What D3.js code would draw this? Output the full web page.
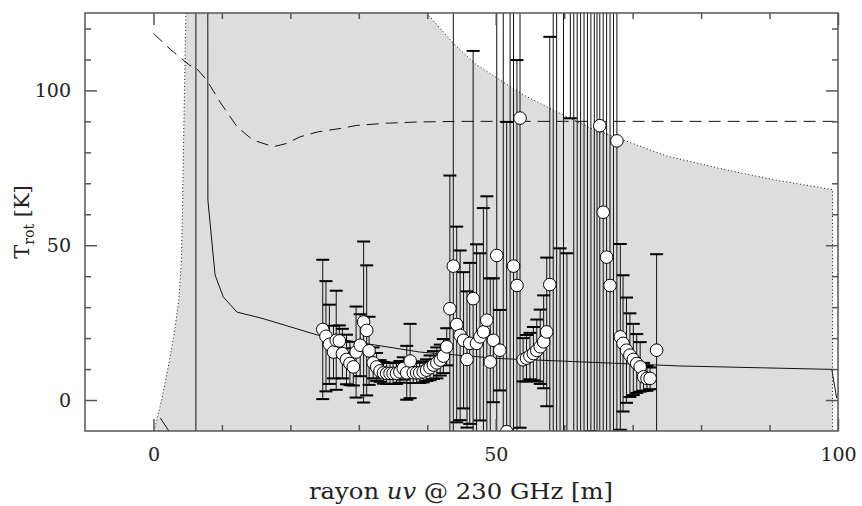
<!DOCTYPE html>
<html>
<head>
<meta charset="utf-8">
<script src="https://cdn.jsdelivr.net/npm/d3@7"></script>
<style>
	body { margin: 0; background: #fff; }
	svg { display: block; }
</style>
</head>
<body>
<div id="stage"></div>
<script>
// visibilities: uv radius [m], rotational temperature [K] and its error
var uvRadius = [
	24.73, 25.2, 25.7, 26.3, 26.7, 27.15, 27.6, 28.2, 28.7, 29.2, 29.6, 30.2, 30.7, 31.15, 31.5, 32.1, 32.6, 33.1, 33.6,
	34.07, 34.56, 35.0, 35.5, 36.0, 36.5, 37.0, 37.5, 37.96, 38.45, 38.9, 39.4, 39.9, 40.4, 40.9, 41.4, 41.9, 42.35, 42.84,
	43.3, 43.8, 44.3, 44.8, 45.3, 45.8, 46.2, 46.7, 47.2, 47.7, 48.2, 48.7, 49.2, 49.65, 50.15, 50.6, 51.1, 51.6, 52.1,
	52.6, 53.1, 53.55,
	54.0, 54.5, 55.0, 55.5, 56.0, 56.5, 57.0, 57.45, 57.9,
	58.4, 58.9, 59.4, 59.9, 60.4, 60.9, 61.4, 61.9, 62.4, 62.9, 63.4, 63.9, 64.4, 64.8, 65.2, 65.7, 66.2, 66.7, 67.2, 67.7,
	68.2, 68.6, 69.1, 69.6, 70.1, 70.6, 71.1, 71.6, 72.1, 72.55, 73.5
];
var tRot = [
	22.8, 20.6, 18.0, 15.5, 19.3, 19.1, 15.0, 13.1, 11.8, 10.7, 15.5, 17.7, 25.2, 22.5, 15.9, 12.0, 10.7, 9.4, 8.8,
	8.6, 8.6, 8.6, 8.6, 9.1, 10.2, 8.8, 12.6, 8.8, 8.8, 8.8, 9.1, 9.65, 10.4, 11.3, 12.0, 12.9, 14.2, 17.2,
	29.5, 43.25, 24.4, 20.9, 19.3, 13.1, 18.3, 32.75, 18.3, 20.4, 22.0, 25.8, 12.3, 19.3, 46.7, 16.1, 150, -10.2, 140,
	43.25, 37.0, 91.06,
	13.0, 13.5, 14.2, 15.0, 16.0, 17.2, 18.8, 22.0, 37.3,
	160, 170, -60, 200, -40, 200, 150, 180, 160, 170, 150, 190, 160, 150, 88.6, 60.65, 46.15, 37.0, 160, 83.7,
	20.4, 18.3, 16.1, 14.5, 13.1, 11.8, 10.7, 7.5, 7.0, 7.0, 16.1
];
var tErr = [
	22.5, 17.8, 12.8, 8.5, 16, 5, 8, 8, 7, 6, 14.7, 10, 26, 21, 11, 5, 4.5, 3.5, 3.5,
	3.4, 3.4, 3.4, 3.4, 3.5, 3.6, 8.7, 12, 3.3, 3.3, 3.3, 3.4, 3.5, 4, 4.5, 5, 5, 5.5, 6,
	43, 100, 31.6, 27.4, 22, 22, 26, 80, 32, 27, 40, 40, 27, 20, 100, 13, 200, 100, 200,
	100, 72.8, 100,
	7, 7.5, 7.5, 8.6, 10, 12, 15, 24, 80,
	200, 200, 109, 250, 87.4, 109, 200, 200, 200, 200, 200, 200, 200, 200, 150, 150, 150, 150, 200, 150,
	30, 22, 17, 13.5, 11.5, 9.5, 8, 4.5, 4, 3.5, 31
];

// model curves
var dashedX = [0, 2.5, 5.3, 6.1, 7.8, 9.8, 12.2, 14.5, 17.5, 19.5, 21.4, 24, 27.25, 29.7, 34, 38.5, 45, 100];
var dashedY = [118.4, 113.2, 108.1, 107.6, 103.3, 96, 88.3, 84, 81.8, 82.9, 85.0, 86.6, 87.7, 88.7, 89.4, 89.8, 90, 90];
var solidX = [1.0, 2.4, 4.0, 6.2, 6.2, 7.9, 7.95, 9.0, 10.2, 12.2, 16.0, 24.1, 30, 38.9, 50.6, 76.9, 99.1, 99.8];
var solidY = [-5.8, -10.5, -40, -2000, 2000, 400, 64.6, 40.4, 33.3, 28.4, 26.3, 20.9, 18.6, 15.5, 13.4, 11.0, 9.9, 0.6];

// shaded envelope (dotted boundaries)
var envLeftX = [0.08, 1.2, 2.17, 3.0, 3.7, 4.1, 4.27, 4.5, 4.75];
var envLeftY = [-10, 0, 10.8, 21, 32.3, 46, 64.6, 96.9, 125];
var envRightX = [39.9, 43.8, 47, 50.6, 54, 57.9, 60.4, 64, 68.6, 75, 83.7, 91, 98.8, 99.2, 99.2];
var envRightY = [125, 115.2, 108.6, 103.4, 98.6, 94.2, 91.5, 87.7, 84.0, 78.8, 74.3, 71.0, 68.1, 68.0, -10];

var xMajor = [0, 50, 100], xMinor = [10, 20, 30, 40, 60, 70, 80, 90];
var yMajor = [0, 50, 100], yMinor = [10, 20, 30, 40, 60, 70, 80, 90, 110, 120];

var margin = {top: 13, right: 24, bottom: 75, left: 85},
	width = 862 - margin.left - margin.right,
	height = 506 - margin.top - margin.bottom,
	serif = '"DejaVu Serif", "Liberation Serif", serif';

var x = d3.scaleLinear().domain([-10, 100]).range([0, width]);
var y = d3.scaleLinear().domain([-10, 125]).range([height, 0]);

var svg = d3.select('#stage').append('svg')
	.attr('width', 862)
	.attr('height', 506);

svg.append('defs').append('clipPath')
	.attr('id', 'plotclip')
	.append('rect')
	.attr('width', width)
	.attr('height', height);

var g = svg.append('g')
	.attr('transform', 'translate(' + margin.left + ',' + margin.top + ')');

var plot = g.append('g').attr('clip-path', 'url(#plotclip)');

var pts = function(xs, ys) {
	return xs.map(function(d, i) { return [d, ys[i]]; });
};
var line = d3.line()
	.x(function(d) { return x(d[0]); })
	.y(function(d) { return y(d[1]); });

// envelope fill
var left = pts(envLeftX, envLeftY), right = pts(envRightX, envRightY);
plot.append('path')
	.attr('d', line(left.concat(right)) + 'Z')
	.attr('fill', '#dddddd')
	.attr('stroke', 'none');

[left, right].forEach(function(p) {
	plot.append('path')
		.attr('d', line(p))
		.attr('fill', 'none')
		.attr('stroke', '#111')
		.attr('stroke-width', 1)
		.attr('stroke-dasharray', '1,2.5');
});

plot.append('path')
	.attr('d', line(pts(dashedX, dashedY)))
	.attr('fill', 'none')
	.attr('stroke', '#111')
	.attr('stroke-width', 1)
	.attr('stroke-dasharray', '12,7');

plot.append('path')
	.attr('d', line(pts(solidX, solidY)))
	.attr('fill', 'none')
	.attr('stroke', '#111')
	.attr('stroke-width', 1);

// error bars
var data = uvRadius.map(function(d, i) { return {r: d, t: tRot[i], e: tErr[i]}; });
var capW = 6.5;

var bars = plot.append('g').selectAll('g')
	.data(data)
	.enter()
	.append('g');

bars.append('line')
	.attr('x1', function(d) { return x(d.r); })
	.attr('x2', function(d) { return x(d.r); })
	.attr('y1', function(d) { return y(d.t - d.e); })
	.attr('y2', function(d) { return y(d.t + d.e); })
	.attr('stroke', '#111')
	.attr('stroke-width', 1);

[-1, 1].forEach(function(s) {
	bars.append('line')
		.attr('x1', function(d) { return x(d.r) - capW; })
		.attr('x2', function(d) { return x(d.r) + capW; })
		.attr('y1', function(d) { return y(d.t + s*d.e); })
		.attr('y2', function(d) { return y(d.t + s*d.e); })
		.attr('stroke', '#000')
		.attr('stroke-width', 2);
});

plot.append('g').selectAll('circle')
	.data(data)
	.enter()
	.append('circle')
	.attr('cx', function(d) { return x(d.r); })
	.attr('cy', function(d) { return y(d.t); })
	.attr('r', 6.3)
	.attr('fill', '#fff')
	.attr('stroke', '#000')
	.attr('stroke-width', 1);

// frame and inward ticks on all four sides
g.append('rect')
	.attr('width', width)
	.attr('height', height)
	.attr('fill', 'none')
	.attr('stroke', '#555')
	.attr('stroke-width', 1.5);

var ticks = function(axis, tr) {
	var a = g.append('g').attr('transform', tr).call(axis);
	a.select('.domain').remove();
	a.selectAll('line').attr('stroke', '#555').attr('stroke-width', 1.5);
	return a;
};
[[xMajor, 12], [xMinor, 6]].forEach(function(t) {
	ticks(d3.axisTop(x).tickValues(t[0]).tickSize(t[1]).tickFormat(''), 'translate(0,' + height + ')');
	ticks(d3.axisBottom(x).tickValues(t[0]).tickSize(t[1]).tickFormat(''), 'translate(0,0)');
});
[[yMajor, 12], [yMinor, 6]].forEach(function(t) {
	ticks(d3.axisRight(y).tickValues(t[0]).tickSize(t[1]).tickFormat(''), 'translate(0,0)');
	ticks(d3.axisLeft(y).tickValues(t[0]).tickSize(t[1]).tickFormat(''), 'translate(' + width + ',0)');
});

// tick labels
var xl = g.append('g')
	.attr('transform', 'translate(0,' + height + ')')
	.call(d3.axisBottom(x).tickValues(xMajor).tickSize(0).tickPadding(17));
var yl = g.append('g')
	.call(d3.axisLeft(y).tickValues(yMajor).tickSize(0).tickPadding(14));
[xl, yl].forEach(function(a) {
	a.select('.domain').remove();
	a.attr('font-family', serif).attr('font-size', 19);
	a.selectAll('text').attr('fill', '#222');
});

// axis titles
var xt = svg.append('text')
	.attr('x', 461)
	.attr('y', 499)
	.attr('text-anchor', 'middle')
	.attr('font-family', serif)
	.attr('font-size', 22)
	.attr('fill', '#222')
	.attr('textLength', 304)
	.attr('lengthAdjust', 'spacingAndGlyphs');
xt.append('tspan').text('rayon ');
xt.append('tspan').attr('font-style', 'italic').text('uv');
xt.append('tspan').text(' @ 230 GHz [m]');

var yt = svg.append('text')
	.attr('transform', 'translate(29,222) rotate(-90)')
	.attr('text-anchor', 'middle')
	.attr('font-family', serif)
	.attr('font-size', 21)
	.attr('fill', '#222');
yt.append('tspan').text('T');
yt.append('tspan').attr('font-size', 14).attr('dy', 5).text('rot');
yt.append('tspan').attr('dy', -5).text(' [K]');
</script>
</body>
</html>
